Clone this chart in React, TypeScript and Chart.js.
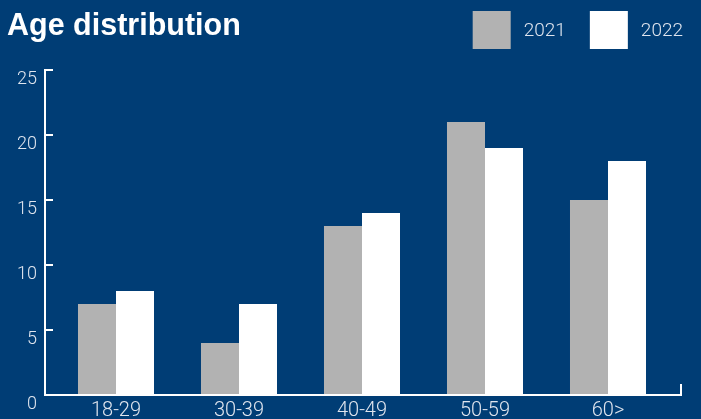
import { useEffect, useRef } from "react";
import { Chart, registerables } from "chart.js";

Chart.register(...registerables);

// Age groups and headcount per year
const ageGroups = ["18-29", "30-39", "40-49", "50-59", "60>"];
const seriesLabels = ["2021", "2022"];
const values2021 = [7, 4, 13, 21, 15];
const values2022 = [8, 7, 14, 19, 18];
const yTickValues = [0, 5, 10, 15, 20, 25];
const chartTitle = "Age distribution";

const NAVY = "#003d75";
const GREY = "#b2b2b2";
const WHITE = "#ffffff";
const LABEL = "#dfe5ee";
const FONT = "Roboto, 'Liberation Sans', Arial, sans-serif";
const TITLE_FONT = "'Liberation Sans', Arial, Helvetica, sans-serif";

const W = 701;
const H = 419;

// Title, legend and the open "L" axis frame with inward tick marks
const framePlugin = {
  id: "frame",
  beforeDraw(chart: any) {
    const { ctx } = chart;
    ctx.save();
    ctx.fillStyle = NAVY;
    ctx.fillRect(0, 0, chart.width, chart.height);
    ctx.restore();
  },
  afterDatasetsDraw(chart: any) {
    const { ctx, chartArea, scales } = chart;
    const y = scales.y;
    const axisX = Math.round(chartArea.left - 9.5);
    const baseY = y.getPixelForValue(0);
    const topY = y.getPixelForValue(yTickValues[yTickValues.length - 1]);
    const endX = Math.round(chartArea.right + 11);

    ctx.save();
    ctx.strokeStyle = WHITE;
    ctx.lineWidth = 2;
    ctx.lineCap = "butt";
    ctx.beginPath();
    // vertical axis
    ctx.moveTo(axisX, topY - 1);
    ctx.lineTo(axisX, baseY + 1);
    // inward ticks
    for (const v of yTickValues) {
      if (v === 0) continue;
      const py = y.getPixelForValue(v);
      ctx.moveTo(axisX - 1, py);
      ctx.lineTo(axisX + 8, py);
    }
    // horizontal axis with end tick
    ctx.moveTo(axisX - 1, baseY);
    ctx.lineTo(endX + 1, baseY);
    ctx.moveTo(endX, baseY + 1);
    ctx.lineTo(endX, baseY - 11);
    ctx.stroke();
    ctx.restore();
  },
  afterDraw(chart: any) {
    const { ctx } = chart;
    ctx.save();
    // title
    ctx.fillStyle = WHITE;
    ctx.font = `bold 30.5px ${TITLE_FONT}`;
    ctx.textBaseline = "alphabetic";
    ctx.textAlign = "left";
    ctx.fillText(chartTitle, 7, 35);

    // legend
    const box = 38;
    const gap = 13;
    const itemGap = 24;
    ctx.font = `300 19px ${FONT}`;
    const items = chart.data.datasets.map((ds: any) => ({
      text: ds.label as string,
      color: ds.backgroundColor as string,
      width: ctx.measureText(ds.label).width,
    }));
    const total =
      items.reduce((s: number, it: any) => s + box + gap + it.width, 0) +
      itemGap * (items.length - 1);
    let x = chart.width - 18 - total;
    const top = 11;
    ctx.textBaseline = "middle";
    for (const it of items) {
      ctx.fillStyle = it.color;
      ctx.fillRect(x, top, box, box);
      ctx.fillStyle = LABEL;
      ctx.fillText(it.text, x + box + gap, top + box / 2 + 1);
      x += box + gap + it.width + itemGap;
    }
    ctx.restore();
  },
};

export default function App() {
  const canvasRef = useRef<HTMLCanvasElement | null>(null);

  useEffect(() => {
    const canvas = canvasRef.current;
    if (!canvas) return;
    const chart = new Chart(canvas, {
      type: "bar",
      data: {
        labels: ageGroups,
        datasets: [
          {
            label: seriesLabels[0],
            data: values2021,
            backgroundColor: GREY,
            borderWidth: 0,
          },
          {
            label: seriesLabels[1],
            data: values2022,
            backgroundColor: WHITE,
            borderWidth: 0,
          },
        ],
      },
      options: {
        responsive: false,
        animation: false,
        devicePixelRatio: 1,
        layout: {
          padding: { top: 70, left: 0, right: 31.5, bottom: 0 },
        },
        plugins: {
          legend: { display: false },
          title: { display: false },
          tooltip: { enabled: false },
        },
        datasets: {
          bar: {
            barPercentage: 1,
            categoryPercentage: 0.618,
          },
        },
        scales: {
          x: {
            grid: { display: false, drawTicks: false },
            border: { display: false },
            ticks: {
              color: LABEL,
              font: { family: FONT, size: 20, weight: "300" },
              padding: 4,
              maxRotation: 0,
            },
            afterFit(scale: any) {
              scale.height = 24;
              scale.paddingLeft = 0;
              scale.paddingRight = 0;
            },
          },
          y: {
            min: 0,
            max: 25,
            grid: { display: false, drawTicks: false },
            border: { display: false },
            afterBuildTicks(scale: any) {
              scale.ticks = yTickValues.map((v) => ({ value: v }));
            },
            ticks: {
              color: LABEL,
              font: { family: FONT, size: 18, weight: "300" },
              padding: 17.5,
              labelOffset: 9.5,
            },
            afterFit(scale: any) {
              scale.width = 54.5;
              scale.paddingTop = 0;
              scale.paddingBottom = 0;
            },
          },
        },
      },
      plugins: [framePlugin],
    });
    return () => chart.destroy();
  }, []);

  return (
    <div
      style={{
        position: "fixed",
        left: 0,
        top: 0,
        width: W,
        height: H,
        background: NAVY,
        overflow: "hidden",
      }}
    >
      <canvas ref={canvasRef} width={W} height={H} style={{ display: "block" }} />
    </div>
  );
}
